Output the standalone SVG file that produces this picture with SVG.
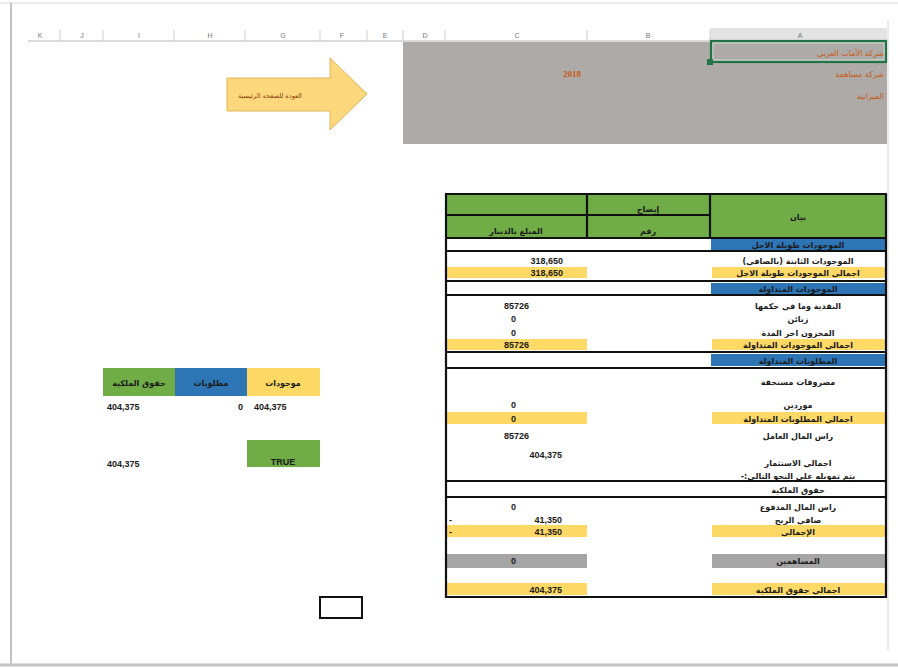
<svg xmlns="http://www.w3.org/2000/svg" width="898" height="668" viewBox="0 0 898 668">
<style>
.ar{font-family:"DejaVu Sans","Noto Sans",sans-serif;font-size:8px;font-weight:bold;fill:#1a1a1a}
.num{font-family:"Liberation Sans",Arial,sans-serif;font-size:9px;font-weight:bold;fill:#1a1a1a}
.col{font-family:"Liberation Sans",Arial,sans-serif;font-size:7px;fill:#777;text-anchor:middle}
.or{font-family:"DejaVu Sans",sans-serif;font-size:8px;fill:#c55a11}
.thick{stroke:#111;stroke-width:2.2}
.thin{stroke:#111;stroke-width:1}
.y{fill:#ffd966}
.b{fill:#2e75b6}
.g{fill:#70ad47}
.gr{fill:#a6a6a6}
</style>
<rect width="898" height="668" fill="#ffffff"/>
<g id="frame">
<line x1="0" y1="3" x2="898" y2="3" stroke="#e4e4e4" stroke-width="1.5"/>
<line x1="11" y1="3" x2="11" y2="665" stroke="#c4c4c4" stroke-width="2"/>
<line x1="0" y1="665" x2="898" y2="665" stroke="#c4c4c4" stroke-width="3"/>
<line x1="888" y1="20" x2="888" y2="650" stroke="#d8d8d8" stroke-width="1"/>
</g>
<g id="column-headers">
<rect x="710" y="28" width="177" height="13" fill="#e3e3e3"/>
<line x1="28" y1="41" x2="887" y2="41" stroke="#b8b8b8" stroke-width="1.2"/>
<g stroke="#d0d0d0" stroke-width="1">
<line x1="60" y1="30" x2="60" y2="41"/><line x1="103" y1="30" x2="103" y2="41"/>
<line x1="174" y1="30" x2="174" y2="41"/><line x1="245" y1="30" x2="245" y2="41"/>
<line x1="320" y1="30" x2="320" y2="41"/><line x1="367" y1="30" x2="367" y2="41"/>
<line x1="403" y1="30" x2="403" y2="41"/><line x1="445" y1="30" x2="445" y2="41"/>
<line x1="587" y1="30" x2="587" y2="41"/><line x1="710" y1="30" x2="710" y2="41"/>
</g>
<text class="col" x="40" y="38">K</text><text class="col" x="82" y="38">J</text>
<text class="col" x="139" y="38">I</text><text class="col" x="210" y="38">H</text>
<text class="col" x="283" y="38">G</text><text class="col" x="342" y="38">F</text>
<text class="col" x="385" y="38">E</text><text class="col" x="425" y="38">D</text>
<text class="col" x="517" y="38">C</text><text class="col" x="648" y="38">B</text>
<text class="col" x="800" y="38">A</text>
</g>
<g id="title-block">
<rect x="403" y="42" width="484" height="102" fill="#aeaaa8"/>
<rect x="711" y="41" width="175" height="21" fill="none" stroke="#217346" stroke-width="2.2"/>
<rect x="713" y="43" width="171" height="17" fill="none" stroke="#c8e6d2" stroke-width="0.8"/>
<rect x="707" y="59" width="6" height="6" fill="#217346"/>
<text class="or" x="884" y="56" text-anchor="end">شركة الأمات العربي</text>
<text class="or" x="884" y="77" text-anchor="end">شركة مساهمة</text>
<text class="or" x="884" y="99" text-anchor="end">الميزانية</text>
<text x="572" y="77" text-anchor="middle" font-family="Liberation Serif,serif" font-size="9" font-weight="bold" fill="#c55a11">2018</text>
</g>
<g id="home-arrow">
<path d="M227,78 L330,78 L330,58 L367,94 L330,130 L330,111 L227,111 Z" fill="#fdd87c" stroke="#e2b45a" stroke-width="1"/>
<text x="270" y="98" text-anchor="middle" font-family="DejaVu Sans,sans-serif" font-size="6.5" fill="#8b3a0e">العودة للصفحة الرئيسية</text>
</g>
<g id="balance-table">
<rect x="446" y="195" width="440" height="42" class="g"/>
<!-- fills -->
<rect x="711" y="239" width="175" height="11" class="b"/>
<rect x="446" y="267" width="141" height="11" class="y"/>
<rect x="712" y="267" width="174" height="11" class="y"/>
<rect x="711" y="283" width="175" height="11" class="b"/>
<rect x="446" y="339" width="141" height="11" class="y"/>
<rect x="712" y="339" width="174" height="11" class="y"/>
<rect x="711" y="354" width="175" height="12" class="b"/>
<rect x="446" y="412" width="141" height="12" class="y"/>
<rect x="712" y="412" width="174" height="12" class="y"/>
<rect x="446" y="525" width="141" height="12" class="y"/>
<rect x="712" y="525" width="174" height="12" class="y"/>
<rect x="446" y="554" width="141" height="14" class="gr"/>
<rect x="712" y="554" width="174" height="14" class="gr"/>
<rect x="446" y="583" width="141" height="12" class="y"/>
<rect x="712" y="583" width="174" height="12" class="y"/>
<!-- lines -->
<line x1="445" y1="194" x2="887" y2="194" class="thick"/>
<line x1="445" y1="215" x2="710" y2="215" class="thick"/>
<line x1="445" y1="238" x2="887" y2="238" class="thick"/>
<line x1="587" y1="194" x2="587" y2="238" class="thick"/>
<line x1="710" y1="194" x2="710" y2="238" class="thick"/>
<line x1="445" y1="251" x2="887" y2="251" class="thick"/>
<line x1="445" y1="281" x2="887" y2="281" class="thick"/>
<line x1="445" y1="295" x2="887" y2="295" class="thick"/>
<line x1="445" y1="352" x2="887" y2="352" class="thick"/>
<line x1="445" y1="368" x2="887" y2="368" class="thick"/>
<line x1="445" y1="481" x2="887" y2="481" class="thick"/>
<line x1="445" y1="497" x2="887" y2="497" class="thick"/>
<line x1="445" y1="597" x2="887" y2="597" class="thick"/>
<line x1="446" y1="194" x2="446" y2="598" class="thick"/>
<line x1="886" y1="194" x2="886" y2="598" class="thick"/>
<!-- header text -->
<text class="ar" x="798" y="220" text-anchor="middle">بيان</text>
<text class="ar" x="648" y="212" text-anchor="middle">إيضاح</text>
<text class="ar" x="648" y="234" text-anchor="middle">رقم</text>
<text class="ar" x="516" y="234" text-anchor="middle">المبلغ بالدينار</text>
<!-- labels -->
<text class="ar" x="798" y="248" text-anchor="middle">الموجودات طويلة الاجل</text>
<text class="ar" x="798" y="264" text-anchor="middle" direction="rtl">الموجودات الثابتة (بالصافي)</text>
<text class="ar" x="798" y="276" text-anchor="middle">اجمالي الموجودات طويلة الاجل</text>
<text class="ar" x="798" y="292" text-anchor="middle">الموجودات المتداولة</text>
<text class="ar" x="798" y="309" text-anchor="middle">النقدية وما في حكمها</text>
<text class="ar" x="798" y="322" text-anchor="middle">زبائن</text>
<text class="ar" x="798" y="336" text-anchor="middle">المخزون اخر المدة</text>
<text class="ar" x="798" y="348" text-anchor="middle">اجمالي الموجودات المتداولة</text>
<text class="ar" x="798" y="364" text-anchor="middle">المطلوبات المتداولة</text>
<text class="ar" x="798" y="385" text-anchor="middle">مصروفات مستحقة</text>
<text class="ar" x="798" y="408" text-anchor="middle">موردين</text>
<text class="ar" x="798" y="422" text-anchor="middle">اجمالي المطلوبات المتداولة</text>
<text class="ar" x="798" y="439" text-anchor="middle">راس المال العامل</text>
<text class="ar" x="798" y="466" text-anchor="middle">اجمالي الاستثمار</text>
<text class="ar" x="798" y="479" text-anchor="middle" direction="rtl">يتم تمويله على النحو التالي:-</text>
<text class="ar" x="798" y="493" text-anchor="middle">حقوق الملكية</text>
<text class="ar" x="798" y="510" text-anchor="middle">راس المال المدفوع</text>
<text class="ar" x="798" y="523" text-anchor="middle">صافي الربح</text>
<text class="ar" x="798" y="535" text-anchor="middle">الإجمالي</text>
<text class="ar" x="798" y="564" text-anchor="middle">المساهمين</text>
<text class="ar" x="798" y="593" text-anchor="middle">اجمالي حقوق الملكية</text>
<!-- values -->
<text class="num" x="563" y="264" text-anchor="end">318,650</text>
<text class="num" x="563" y="276" text-anchor="end">318,650</text>
<text class="num" x="529" y="309" text-anchor="end">85726</text>
<text class="num" x="516" y="322" text-anchor="end">0</text>
<text class="num" x="516" y="336" text-anchor="end">0</text>
<text class="num" x="529" y="348" text-anchor="end">85726</text>
<text class="num" x="516" y="408" text-anchor="end">0</text>
<text class="num" x="516" y="422" text-anchor="end">0</text>
<text class="num" x="529" y="439" text-anchor="end">85726</text>
<text class="num" x="562" y="458" text-anchor="end">404,375</text>
<text class="num" x="516" y="510" text-anchor="end">0</text>
<text class="num" x="562" y="523" text-anchor="end">41,350</text>
<text class="num" x="562" y="535" text-anchor="end">41,350</text>
<text class="num" x="449" y="523">-</text>
<text class="num" x="449" y="535">-</text>
<text class="num" x="516" y="564" text-anchor="end">0</text>
<text class="num" x="562" y="593" text-anchor="end">404,375</text>
</g>
<g id="check-table">
<rect x="103" y="368" width="72" height="28" class="g"/>
<rect x="175" y="368" width="72" height="28" class="b"/>
<rect x="247" y="368" width="73" height="28" class="y"/>
<text class="ar" x="139" y="386" text-anchor="middle">حقوق الملكية</text>
<text class="ar" x="211" y="386" text-anchor="middle">مطلوبات</text>
<text class="ar" x="283" y="386" text-anchor="middle">موجودات</text>
<text class="num" x="107" y="410">404,375</text>
<text class="num" x="243" y="410" text-anchor="end">0</text>
<text class="num" x="254" y="410">404,375</text>
<text class="num" x="107" y="467">404,375</text>
<rect x="247" y="440" width="73" height="27" class="g"/>
<text class="num" x="283" y="465" text-anchor="middle">TRUE</text>
</g>
<g id="empty-box">
<rect x="320" y="597" width="42" height="21" fill="none" stroke="#111" stroke-width="2"/>
</g>
<g id="connectors"/>
</svg>
